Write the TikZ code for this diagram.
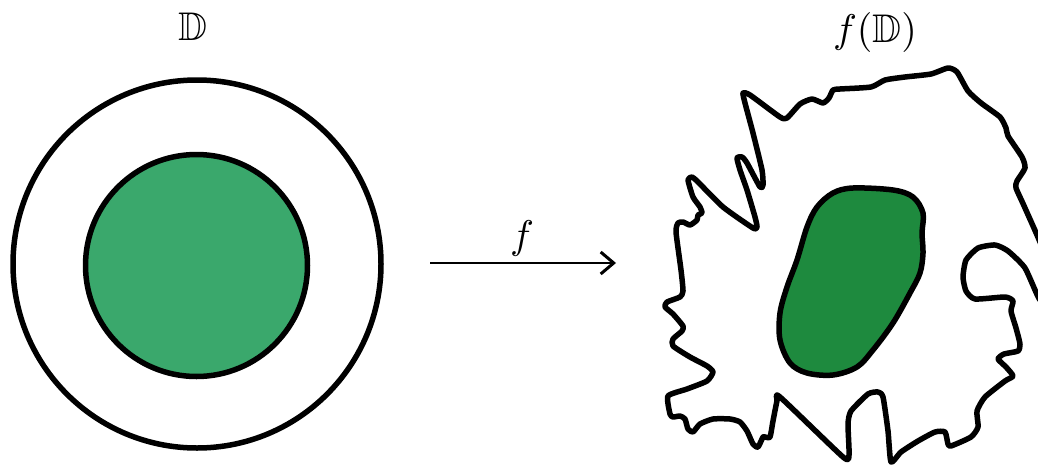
\documentclass[tikz,border=0pt]{standalone}
\usepackage{amssymb}
\usetikzlibrary{arrows.meta}
\definecolor{diskgreen}{RGB}{58,168,108}
\definecolor{imggreen}{RGB}{30,138,62}
\tikzset{
  outline/.style={line width=5.5pt, line join=round, line cap=round},
  lbl/.style={inner sep=0pt},
  maparrow/.style={line width=2.8pt, -{Straight Barb[length=13pt,width=22pt,line width=3pt]}}
}
\newcommand{\biglabel}[1]{\scalebox{4}{#1}}
\begin{document}
\begin{tikzpicture}[x=1pt,y=-1pt]
\useasboundingbox (0,0) rectangle (1038,474);
% left: unit disk
\draw[outline, fill=white] (197,264) circle (184);
\draw[outline, fill=diskgreen] (196.5,265.5) circle (111);
\node[lbl] (D) at (193,27) {\biglabel{$\mathbb{D}$}};
% arrow
\coordinate (a1) at (430,263);
\coordinate (a2) at (616,263);
\draw[maparrow] (a1) -- (a2);
\node[lbl] (f) at (522,238) {\biglabel{$f$}};
% right: image domain
\node[lbl] (fD) at (875,32) {\biglabel{$f(\mathbb{D})$}};
\draw[outline, fill=white] plot[smooth cycle, tension=0.35] coordinates {
(743,93) (750,95) (780,117) (787,118) (800,104) (812,99) (823,103) (829,98)
(833,90) (840,89) (871,87) (885,80) (905,77) (931,74) (948,68) (957,72)
(968,91) (981,103) (1000,117) (1006,128) (1008,136) (1022,157) (1025,168)
(1017,181) (1016,188) (1025,208) (1045,255) (1048,290) (1040,300)
(1025,268) (1008,251) (995,245) (978,248) (966,260) (963,277) (966,291)
(975,299) (1005,297) (1013,301) (1011,311) (1016,328) (1020,344) (1018,351)
(1004,354) (998,359) (1006,367) (1013,376) (1005,381) (985,397) (977,411)
(978,427) (971,437) (951,446) (948,444) (945,432) (935,432) (918,441)
(901,452) (891,462) (888,431) (883,397) (878,392) (868,394) (851,411)
(848,424) (849,455) (843,457)
(780,397) (777,401) (773,421) (770,437) (765,437) (763,437) (758,447)
(753,444) (747,431) (740,422) (730,419) (713,419) (700,424) (693,432)
(688,429) (685,419) (680,416) (673,417) (670,414) (668,396) (687,389)
(707,381) (713,372) (707,366) (690,357) (673,346) (673,339) (682,331)
(683,326) (673,314) (665,307) (667,302) (680,297) (683,291) (681,270)
(676,232) (678,223) (683,222) (690,225) (697,220)
(698,215) (702,213) (700,207) (693,197) (688,180) (692,177) (698,182)
(723,207) (753,228) (757,227) (755,217) (747,190) (740,170) (737,158)
(742,157) (747,163) (760,187) (763,185) (762,170) (753,133) (745,103)
};
\draw[outline, fill=imggreen] plot[smooth cycle, tension=0.55] coordinates {
(853,188) (893,190) (913,197) (923,213) (922,233) (923,253) (920,273)
(910,293) (893,323) (873,350) (857,367) (833,375) (807,373) (790,363)
(780,340) (780,313) (787,287) (797,260) (807,227) (817,207) (833,193)
};
\end{tikzpicture}
\end{document}
